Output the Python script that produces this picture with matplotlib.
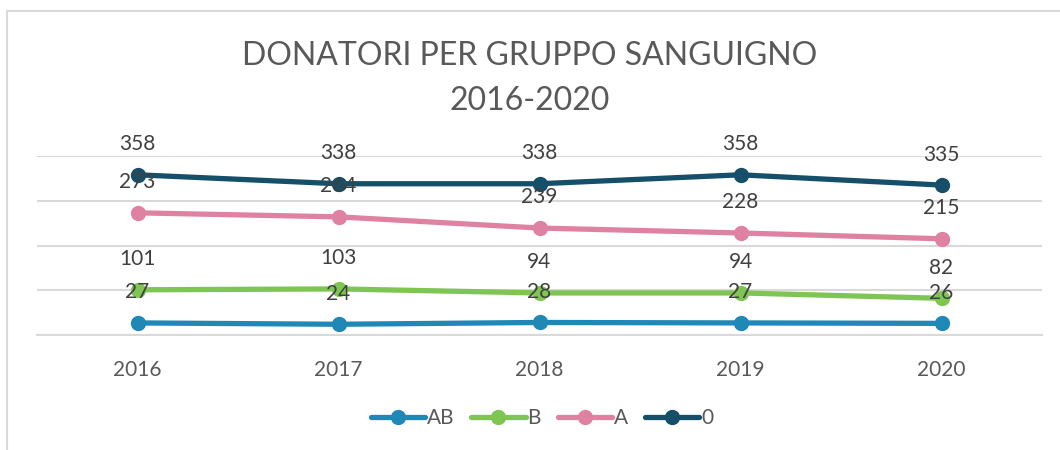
import matplotlib.pyplot as plt
from matplotlib.patches import Rectangle

plt.rcParams['font.family'] = ['Lato', 'DejaVu Sans']

# dati
anni = ['2016', '2017', '2018', '2019', '2020']
gruppi = ['AB', 'B', 'A', '0']
val_ab = [27, 24, 28, 27, 26]
val_b = [101, 103, 94, 94, 82]
val_a = [273, 264, 239, 228, 215]
val_0 = [358, 338, 338, 358, 335]
colori = ['#2088B6', '#7EC553', '#DF82A2', '#154F69']

serie = [val_ab, val_b, val_a, val_0]

fig = plt.figure(figsize=(10.6, 4.5), dpi=100)
ax = fig.add_axes([37 / 1060, 115 / 450, 1005 / 1060, 179 / 450])

x = list(range(len(anni)))
for nome, vals, col in zip(gruppi, serie, colori):
    ax.plot(x, vals, color=col, lw=3.8, marker='o', markersize=10,
            solid_capstyle='round', label=nome, zorder=3)
    for xi, v in zip(x, vals):
        ax.annotate(str(v), (xi, v), xytext=(0, 22), textcoords='offset points',
                    ha='center', va='center', fontsize=15, color='#404040', zorder=5)

ax.set_xlim(-0.5, 4.5)
ax.set_ylim(0, 400)
ax.set_yticks([0, 100, 200, 300, 400])
ax.yaxis.grid(True, color='#D9D9D9', lw=1.5)
ax.set_axisbelow(True)
ax.set_yticklabels([])
ax.tick_params(axis='y', length=0)
ax.set_xticks(x)
ax.set_xticklabels(anni, fontsize=15, color='#595959')
ax.tick_params(axis='x', length=0, pad=18)
for s in ['top', 'right', 'left']:
    ax.spines[s].set_visible(False)
ax.spines['bottom'].set_color('#D9D9D9')
ax.spines['bottom'].set_linewidth(1.5)
ax.spines['bottom'].set_zorder(1)

# titolo su due righe
fig.text(0.5, 1 - 56 / 450, 'DONATORI PER GRUPPO SANGUIGNO', ha='center', va='center',
         fontsize=23, color='#595959')
fig.text(0.5, 1 - 101 / 450, '2016-2020', ha='center', va='center',
         fontsize=23, color='#595959')

leg = fig.legend(loc='center', bbox_to_anchor=(542 / 1060, 1 - 418 / 450), ncol=4,
                 frameon=False, fontsize=15, handlelength=2.6, handletextpad=0.1,
                 columnspacing=0.8, labelcolor='#595959')

# bordo del grafico (tagliato a destra e in basso)
fig.patches.append(Rectangle((7 / 1060, -0.5), 2, 0.5 + 1 - 11 / 450,
                             transform=fig.transFigure, fill=False,
                             edgecolor='#D9D9D9', lw=1.5))

fig.savefig('out.png', dpi=100)
